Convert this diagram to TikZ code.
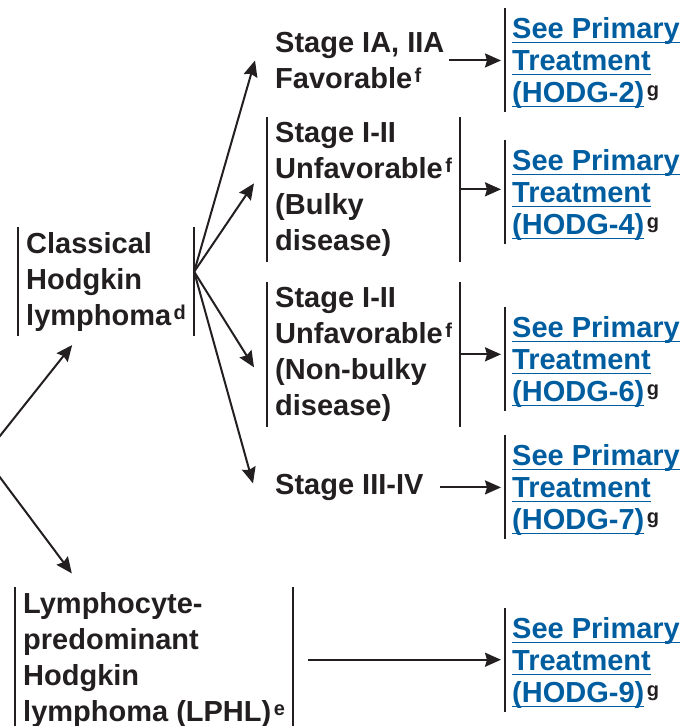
\documentclass[tikz,border=0pt]{standalone}
\usepackage{fontspec}
\setmainfont{Liberation Sans}
\usepackage{tikz}
\usetikzlibrary{arrows.meta, positioning}
\definecolor{linkblue}{RGB}{0,94,160}
\definecolor{ink}{HTML}{231F20}
\newlength{\lnkwd}
\newcommand{\lnk}[1]{\settowidth{\lnkwd}{#1}\rlap{\rule[-4.5pt]{\lnkwd}{1pt}}#1}
\newcommand{\sups}[1]{\kern2.5pt\raisebox{6pt}{\fontsize{20}{20}\selectfont #1}}
\newcommand{\seeprim}[1]{\rule{0pt}{26pt}\lnk{See Primary}\\\lnk{Treatment}\\\lnk{(HODG-#1)}{\color{ink}\sups{g}}}

\begin{document}
\begin{tikzpicture}[x=1pt,y=-1pt,
	stagebox/.style={anchor=north west, align=left, inner xsep=8pt, inner ysep=5pt, text=ink, font=\fontsize{29}{36}\selectfont\bfseries},
	linkbox/.style={anchor=north west, align=left, inner xsep=7pt, inner ysep=4pt, text=linkblue, font=\fontsize{29}{32}\selectfont\bfseries},
	bar/.style={draw=ink, line width=1.8pt},
	arr/.style={draw=ink, line width=2pt, -{Stealth[length=16pt,width=14pt,inset=2pt]}}]
			\useasboundingbox (0,0) rectangle (685,726);
			\node[stagebox] (chl) at (18,227) {Classical\\Hodgkin\\lymphoma\sups{d}};
			\node[stagebox] (lphl) at (15,587) {Lymphocyte-\\predominant\\Hodgkin\\lymphoma (LPHL)\sups{e}};
			\node[stagebox] (fav) at (267,27) {Stage IA, IIA\\Favorable\sups{f}};
			\node[stagebox] (bulky) at (267,117) {Stage I-II\\Unfavorable\sups{f}\\(Bulky\\disease)};
			\node[stagebox] (nonbulky) at (267,282) {Stage I-II\\Unfavorable\sups{f}\\(Non-bulky\\disease)};
			\node[stagebox] (adv) at (267,469) {Stage III-IV};
			\node[linkbox] (hodg2) at (505,8) {\seeprim{2}};
			\node[linkbox] (hodg4) at (505,140) {\seeprim{4}};
			\node[linkbox] (hodg6) at (505,307) {\seeprim{6}};
			\node[linkbox] (hodg7) at (505,435) {\seeprim{7}};
			\node[linkbox] (hodg9) at (505,608) {\seeprim{9}};
			% side bars
			\foreach \n in {chl, lphl, bulky, nonbulky}
				\draw[bar] (\n.north west) -- (\n.south west) (\n.north east) -- (\n.south east);
			\foreach \n in {hodg2, hodg4, hodg6, hodg7, hodg9}
				\draw[bar] (\n.north west) -- (\n.south west);
			\coordinate (root) at (-16,456);
			\coordinate (fan) at ([yshift=10pt]chl.east);
			\draw[arr, shorten >=11pt] (root) -- ([xshift=61pt]chl.south west);
			\draw[arr, shorten >=17pt] (root) -- ([xshift=67pt]lphl.north west);
			\draw[arr] (fan) -- ([xshift=-12pt]fav.west);
			\draw[arr] (fan) -- ([xshift=-13pt,yshift=6pt]bulky.west);
			\draw[arr] (fan) -- ([xshift=-13pt,yshift=-13pt]nonbulky.west);
			\draw[arr] (fan) -- ([xshift=-14pt,yshift=4pt]adv.west);
			\draw[arr, shorten <=-4pt, shorten >=4pt] (fav.east) -- (fav.east -| hodg2.west);
			\draw[arr, shorten >=4pt] (bulky.east) -- (bulky.east -| hodg4.west);
			\draw[arr, shorten >=4pt] (nonbulky.east) -- (nonbulky.east -| hodg6.west);
			\draw[arr, shorten <=8pt, shorten >=4pt] (adv.east) -- (adv.east -| hodg7.west);
			\draw[arr, shorten <=15pt, shorten >=4pt] (lphl.east) -- (lphl.east -| hodg9.west);
\end{tikzpicture}
\end{document}
